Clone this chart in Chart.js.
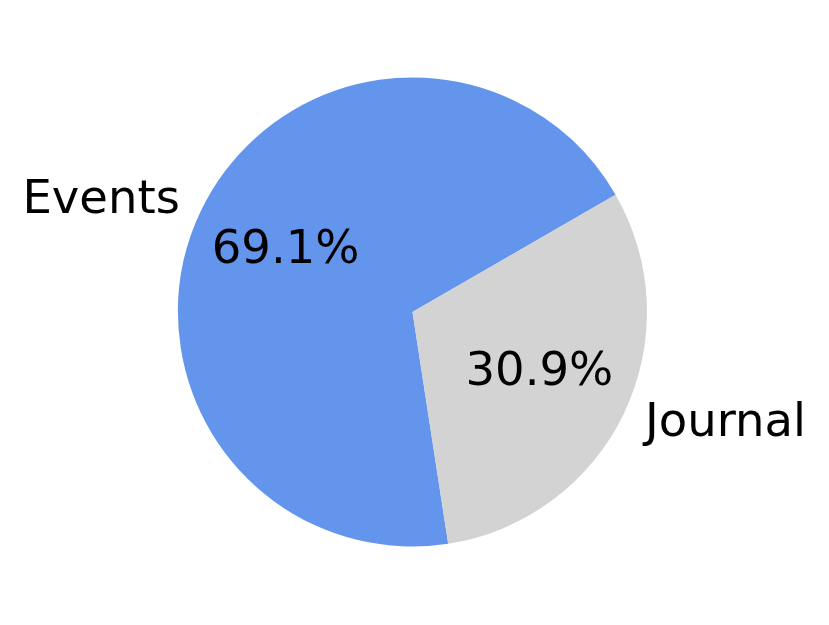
<!DOCTYPE html>
<html lang="en">
<head>
    <meta charset="UTF-8">
    <title>Events vs Journal</title>
    <script src="https://cdn.jsdelivr.net/npm/chart.js"></script>
    <style>
        body { margin: 0; background: #ffffff; }
        #wrap { width: 829px; height: 625px; }
    </style>
</head>
<body>
    <div id="wrap"><canvas id="pieChart" width="829" height="625"></canvas></div>
    <script>
    const labels = ['Events', 'Journal'];
    const shares = [69.1, 30.9];
    const colors = ['#6495ED', '#D3D3D3'];
    const startAngle = 30; // like matplotlib startangle, counterclockwise from 3 o'clock

    const fontSpec = '46.5px "DejaVu Sans", sans-serif';

    // matplotlib draws counterclockwise, Chart.js clockwise from the top,
    // so rotate so that the first slice ends where matplotlib starts it
    const total = shares.reduce((a, b) => a + b, 0);
    const rotation = (90 - startAngle) - shares[0] / total * 360;

    // labels at 1.1 r, percentages at 0.6 r
    const pieText = {
        id: 'pieText',
        afterDatasetsDraw(chart) {
            const ctx = chart.ctx;
            const meta = chart.getDatasetMeta(0);
            ctx.save();
            ctx.font = fontSpec;
            ctx.fillStyle = '#000000';
            ctx.textBaseline = 'middle';
            meta.data.forEach((arc, i) => {
                const mid = (arc.startAngle + arc.endAngle) / 2;
                const r = arc.outerRadius;
                const cx = Math.cos(mid), cy = Math.sin(mid);
                ctx.textAlign = cx > 0 ? 'left' : 'right';
                ctx.fillText(labels[i], arc.x + cx * r * 1.1, arc.y + cy * r * 1.1);
                ctx.textAlign = 'center';
                ctx.fillText(shares[i].toFixed(1) + '%', arc.x + cx * r * 0.6, arc.y + cy * r * 0.6);
            });
            ctx.restore();
        }
    };

    new Chart(document.getElementById('pieChart'), {
        type: 'pie',
        data: {
            labels: labels,
            datasets: [{
                data: shares,
                backgroundColor: colors,
                borderWidth: 0
            }]
        },
        options: {
            responsive: false,
            animation: false,
            rotation: rotation,
            layout: { padding: { top: 77, bottom: 78, left: 178, right: 182 } },
            plugins: {
                legend: { display: false },
                tooltip: { enabled: false }
            }
        },
        plugins: [pieText]
    });
    </script>
</body>
</html>
